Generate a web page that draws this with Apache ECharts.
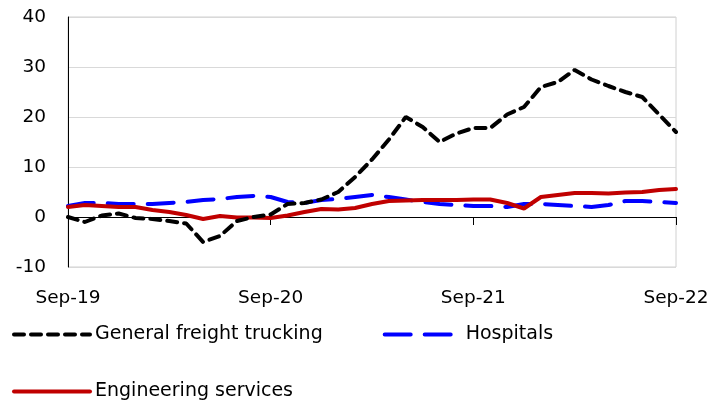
<!DOCTYPE html>
<html>
<head>
<meta charset="utf-8">
<script src="https://cdn.jsdelivr.net/npm/echarts@6/dist/echarts.min.js"></script>
<style>
  html, body { margin: 0; padding: 0; background: #fff; }
  #chart { width: 723px; height: 406px; }
</style>
</head>
<body>
<div id="chart"></div>
<script>
// monthly, Sep-19 .. Sep-22
const months = [
  'Sep-19','Oct-19','Nov-19','Dec-19','Jan-20','Feb-20','Mar-20','Apr-20','May-20','Jun-20','Jul-20','Aug-20',
  'Sep-20','Oct-20','Nov-20','Dec-20','Jan-21','Feb-21','Mar-21','Apr-21','May-21','Jun-21','Jul-21','Aug-21',
  'Sep-21','Oct-21','Nov-21','Dec-21','Jan-22','Feb-22','Mar-22','Apr-22','May-22','Jun-22','Jul-22','Aug-22',
  'Sep-22'
];
const trucking = [
  0, -1, 0.3, 0.7, -0.2, -0.4, -0.8, -1.3, -5, -3.8, -0.8, 0,
  0.5, 2.6, 2.8, 3.5, 5, 8, 11.5, 15.5, 20, 18, 15, 16.7,
  17.8, 17.8, 20.5, 22, 26, 27, 29.4, 27.5, 26.2, 25, 24, 20.5,
  17
];
const hospitals = [
  2.2, 2.8, 2.8, 2.6, 2.6, 2.6, 2.8, 3.0, 3.4, 3.6, 4.0, 4.2,
  4.0, 3.0, 2.8, 3.4, 3.6, 4.0, 4.4, 4.0, 3.5, 3.0, 2.6, 2.4,
  2.2, 2.2, 2.0, 2.6, 2.6, 2.4, 2.2, 2.0, 2.4, 3.2, 3.2, 3.0,
  2.8
];
const engineering = [
  2.0, 2.4, 2.2, 2.0, 2.0, 1.4, 1.0, 0.4, -0.4, 0.2, -0.1, -0.1,
  -0.2, 0.3, 1.0, 1.6, 1.5, 1.8, 2.6, 3.2, 3.3, 3.4, 3.4, 3.4,
  3.5, 3.5, 2.8, 1.7, 4.0, 4.4, 4.8, 4.8, 4.7, 4.9, 5.0, 5.4,
  5.6
];

const font = 'DejaVu Sans';
const fs = 18.5;
const chart = echarts.init(document.getElementById('chart'));
chart.setOption({
  animation: false,
  textStyle: { fontFamily: font },
  grid: {
    left: 68, right: 47, top: 17, bottom: 139,
    show: true, borderColor: '#d0d0d0', borderWidth: 1
  },
  legend: [
    {
      data: ['General freight trucking', 'Hospitals'],
      left: 12, top: 325, padding: 0,
      itemWidth: 76, itemHeight: 14, itemGap: 60,
      itemStyle: { opacity: 0 },
      lineStyle: { width: 4, cap: 'round' },
      textStyle: { fontSize: 19, color: '#000', fontFamily: font }
    },
    {
      data: ['Engineering services'],
      left: 12, top: 382, padding: 0,
      itemWidth: 76, itemHeight: 14,
      itemStyle: { opacity: 0 },
      lineStyle: { width: 4, cap: 'round' },
      textStyle: { fontSize: 19, color: '#000', fontFamily: font }
    }
  ],
  xAxis: [
    {
      type: 'category',
      data: months,
      boundaryGap: false,
      axisLine: { onZero: true, lineStyle: { color: '#000', width: 1 } },
      axisTick: { show: true, interval: 11, length: 8, lineStyle: { color: '#000' } },
      axisLabel: { show: false },
      splitLine: { show: false }
    },
    {
      type: 'category',
      data: months,
      boundaryGap: false,
      position: 'bottom',
      axisLine: { show: false },
      axisTick: { show: false },
      axisLabel: { interval: 11, fontSize: fs, color: '#000', margin: 22, fontFamily: font },
      splitLine: { show: false }
    }
  ],
  yAxis: {
    type: 'value',
    min: -10, max: 40, interval: 10,
    axisLine: { show: true, lineStyle: { color: '#000' } },
    axisTick: { show: false },
    axisLabel: { fontSize: fs, color: '#000', margin: 22, fontFamily: font },
    splitLine: { lineStyle: { color: '#d9d9d9', width: 1 } }
  },
  series: [
    {
      name: 'General freight trucking',
      type: 'line',
      data: trucking,
      symbol: 'none',
      z: 3,
      lineStyle: { color: '#000', width: 4, type: [10, 7], cap: 'round' },
      itemStyle: { color: '#000' }
    },
    {
      name: 'Hospitals',
      type: 'line',
      data: hospitals,
      symbol: 'none',
      z: 2,
      lineStyle: { color: '#0000ff', width: 4, type: [26, 14], cap: 'round' },
      itemStyle: { color: '#0000ff' }
    },
    {
      name: 'Engineering services',
      type: 'line',
      data: engineering,
      symbol: 'none',
      z: 2,
      lineStyle: { color: '#c00000', width: 4, cap: 'round' },
      itemStyle: { color: '#c00000' }
    }
  ]
});
</script>
</body>
</html>
